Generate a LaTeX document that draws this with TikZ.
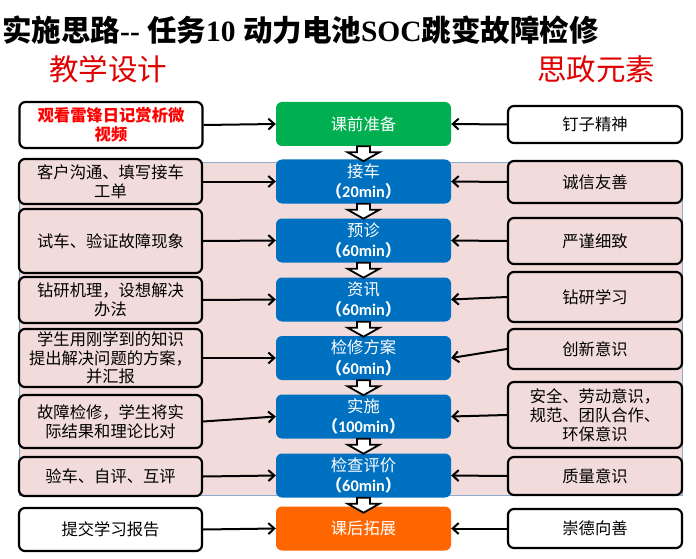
\documentclass[tikz,border=0pt]{standalone}
\usepackage{fontspec}
\setmainfont{Liberation Serif}
\newfontfamily\cjk{Noto Sans CJK SC}
\newfontfamily\calfont{Carlito}
\usetikzlibrary{arrows.meta,calc}
\definecolor{pinkbg}{HTML}{F2DCDB}
\definecolor{regionline}{HTML}{8EAACC}
\definecolor{cgreen}{HTML}{00B050}
\definecolor{cblue}{HTML}{0070C0}
\definecolor{corange}{HTML}{FF6600}
\definecolor{hred}{HTML}{E00000}
\newcommand{\mins}[1]{{\cjk\bfseries （}{\calfont\bfseries #1min}{\cjk\bfseries ）}}
\begin{document}
\begin{tikzpicture}[x=1pt,y=-1pt,
  sidebox/.style={draw=black, line width=2.2pt, rounded corners=6pt, align=center,
    inner sep=0pt, font=\cjk\fontsize{16.3}{19}\selectfont, fill=white},
  lbox/.style={sidebox, minimum width=183pt},
  rbox/.style={sidebox, minimum width=174pt},
  pinkfill/.style={fill=pinkbg},
  stage/.style={rounded corners=6pt, minimum width=175pt, minimum height=44pt, align=center,
    inner sep=0pt, text=white, font=\cjk\fontsize{16.3}{20.5}\selectfont},
  arr/.style={draw=black, line width=2pt, -{Straight Barb[length=6pt,width=11pt,line width=2pt]}},
  blockarr/.style={draw=black, line width=1.8pt, fill=white, line join=miter},
  heading/.style={text=hred, font=\cjk\fontsize{29.5}{32}\selectfont, inner sep=0pt}
]
\useasboundingbox (0,0) rectangle (696,559);
\fill[white] (0,0) rectangle (696,559);

% pink region
\draw[regionline, line width=1pt, fill=pinkbg] (19,162) rectangle (682,495);

% title and headings
\node[anchor=west, inner sep=0pt] (title) at (2,30) {\fontsize{29.5}{32}\selectfont\cjk\bfseries 实施思路{\rmfamily\bfseries -{}- }任务{\rmfamily\bfseries 10 }动力电池{\rmfamily\bfseries SOC}跳变故障检修};
\node[heading] (hl) at (108,69) {教学设计};
\node[heading] (hr) at (596,69) {思政元素};

% center stages
\node[stage, fill=cgreen]  (C1) at (363.5,124)   {课前准备};
\node[stage, fill=cblue]   (C2) at (363.5,181.5) {接车\\\mins{20}};
\node[stage, fill=cblue]   (C3) at (363.5,240.5) {预诊\\\mins{60}};
\node[stage, fill=cblue]   (C4) at (363.5,299.5) {资讯\\\mins{60}};
\node[stage, fill=cblue]   (C5) at (363.5,358)   {检修方案\\\mins{60}};
\node[stage, fill=cblue]   (C6) at (363.5,416.5) {实施\\\mins{100}};
\node[stage, fill=cblue]   (C7) at (363.5,475.5) {检查评价\\\mins{60}};
\node[stage, fill=corange] (C8) at (363.5,528.5) {课后拓展};

% left boxes
\node[lbox, minimum height=46pt] (L1) at (111,125) {\textcolor{red}{\bfseries 观看雷锋日记赏析微}\\\textcolor{red}{\bfseries 视频}};
\node[lbox, pinkfill, minimum height=45pt] (L2) at (110.5,181.5) {客户沟通、填写接车\\工单};
\node[lbox, pinkfill, minimum height=64pt] (L3) at (110.5,241) {试车、验证故障现象};
\node[lbox, pinkfill, minimum height=46pt] (L4) at (110.5,300) {钻研机理，设想解决\\办法};
\node[lbox, pinkfill, minimum height=58pt, font=\cjk\fontsize{16.3}{18.5}\selectfont] (L5) at (110.5,358) {学生用刚学到的知识\\提出解决问题的方案，\\并汇报};
\node[lbox, pinkfill, minimum height=53pt] (L6) at (110.5,421.5) {故障检修，学生将实\\际结果和理论比对};
\node[lbox, pinkfill, minimum height=39pt] (L7) at (110.5,476.5) {验车、自评、互评};
\node[lbox, minimum height=43pt] (L8) at (110.5,529.5) {提交学习报告};

% right boxes
\node[rbox, minimum height=37pt] (R1) at (595,124.5) {钉子精神};
\node[rbox, pinkfill, minimum height=42pt] (R2) at (595,182) {诚信友善};
\node[rbox, pinkfill, minimum height=46pt] (R3) at (595,241) {严谨细致};
\node[rbox, pinkfill, minimum height=50pt] (R4) at (595,297) {钻研学习};
\node[rbox, pinkfill, minimum height=40pt] (R5) at (595,349) {创新意识};
\node[rbox, pinkfill, minimum height=66pt] (R6) at (595,415) {安全、劳动意识，\\规范、团队合作、\\环保意识};
\node[rbox, pinkfill, minimum height=38pt] (R7) at (595,476) {质量意识};
\node[rbox, minimum height=39pt] (R8) at (595,528.5) {崇德向善};

% connectors
\foreach \i in {1,...,8} {
  \draw[arr] (L\i.east) -- (C\i.west);
  \draw[arr] (R\i.west) -- (C\i.east);
}

% block arrows between stages
\foreach \i in {1,...,7} {
  \draw[blockarr] ($(C\i.south)+(-6.5,0)$) -- ++(0,6) -- ++(-9.5,0) -- ++(16,9) -- ++(16,-9) -- ++(-9.5,0) -- ++(0,-6) -- cycle;
}
\end{tikzpicture}
\end{document}
